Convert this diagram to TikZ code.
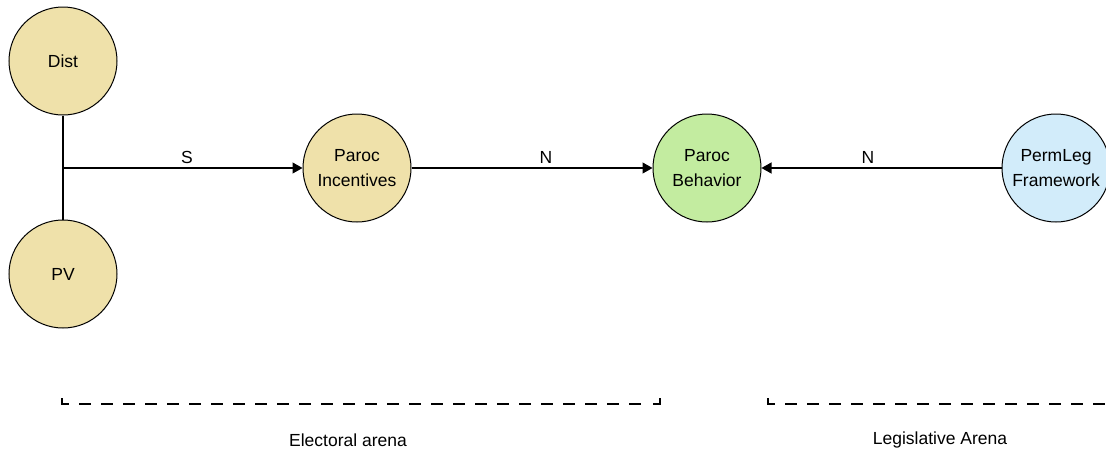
\documentclass[tikz,border=0pt]{standalone}
\usepackage{fontspec}
\setmainfont{Liberation Sans}
\usetikzlibrary{arrows.meta}
\definecolor{beige}{RGB}{239,225,170}
\definecolor{lgreen}{RGB}{195,236,160}
\definecolor{lblue}{RGB}{210,236,250}
\tikzset{
  circ/.style={circle, draw=black, line width=1pt, minimum size=108pt, inner sep=0pt, align=center, font=\fontsize{17.5}{25}\selectfont},
  conn/.style={line width=1.2pt, black},
  arr/.style={conn, -{Triangle[length=10pt,width=11pt]}},
  lbl/.style={font=\fontsize{17.5}{20}\selectfont, inner sep=0pt},
  brk/.style={line width=1.3pt, dash pattern=on 12pt off 10pt}
}
\begin{document}
\begin{tikzpicture}[x=1pt,y=-1pt]
\useasboundingbox (0,0) rectangle (1106,453);
\clip (0,0) rectangle (1106,453);
\node[circ, fill=beige] (dist) at (63,61) {Dist};
\node[circ, fill=beige] (pv) at (63,274) {PV};
\node[circ, fill=beige] (inc) at (357,168) {Paroc\\Incentives};
\node[circ, fill=lgreen] (beh) at (707,168) {Paroc\\Behavior};
\node[circ, fill=lblue] (perm) at (1056,168) {PermLeg\\Framework};
\coordinate (j) at (63,168);
\draw[conn] (dist.south) -- (pv.north);
\draw[arr] (j) -- (inc.west);
\draw[arr] (inc.east) -- (beh.west);
\draw[arr] (perm.west) -- (beh.east);
\node[lbl] (s) at (187,157) {S};
\node[lbl] (n1) at (546,157) {N};
\node[lbl] (n2) at (868,157) {N};
\coordinate (e1) at (62,398);
\coordinate (e2) at (62,404);
\coordinate (e3) at (660,404);
\coordinate (e4) at (660,398);
\draw[line width=1.3pt] (e1) -- (e2) -- (69,404);
\draw[brk] (79,404) -- (650,404);
\draw[line width=1.3pt] (653,404) -- (e3) -- (e4);
\coordinate (l1) at (768,398);
\coordinate (l2) at (768,404);
\draw[line width=1.3pt] (l1) -- (l2) -- (775,404);
\draw[brk] (785,404) -- (1110,404);
\node[lbl] (ea) at (348,440) {Electoral arena};
\node[lbl] (la) at (940,440) {Legislative Arena};
\end{tikzpicture}
\end{document}
